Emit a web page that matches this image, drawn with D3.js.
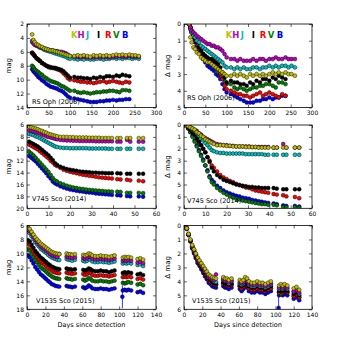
<!DOCTYPE html>
<html>
<head>
<meta charset="utf-8">
<script src="https://cdn.jsdelivr.net/npm/d3@7"></script>
<style>
  body { margin: 0; background: #fff; }
  text { font-family: "DejaVu Sans", sans-serif; }
</style>
</head>
<body>
<svg id="chart"></svg>
<script>
// bands, drawn as coloured circles
const bands = ['K', 'H', 'J', 'I', 'R', 'V', 'B'];
const bandColors = ['#bfbf00', '#bf00bf', '#00bfbf', '#000000', '#ff0000', '#008000', '#0000ff'];

// RS Oph (2006)
const rsOphDays = [12, 15, 18, 22, 26, 30, 35, 40, 45, 50, 55, 60, 65, 70, 75, 80, 85, 90, 95, 100,
  110, 118, 125, 132, 140, 147, 155, 162, 170, 178, 185, 192, 200, 208, 215, 222, 230, 238, 245, 252, 260];
const rsOphK = [3.5, 4.3, 4.6, 4.9, 5.0, 5.2, 5.3, 5.5, 5.6, 5.7, 5.8, 5.8, 5.9, 6.0, 6.1, 6.2, 6.3, 6.4, 6.5, 6.6,
  6.6, 6.5, 6.6, 6.5, 6.6, 6.7, 6.5, 6.6, 6.5, 6.6, 6.5, 6.6, 6.5, 6.4, 6.5, 6.4, 6.5, 6.4, 6.5, 6.5, 6.6];
const rsOphH = [4.6, 4.8, 5.0, 5.1, 5.2, 5.3, 5.4, 5.5, 5.6, 5.7, 5.8, 5.8, 5.9, 5.9, 6.0, 6.0, 6.1, 6.2, 6.4, 6.6,
  6.7, 6.7, 6.8, 6.7, 6.8, 6.8, 6.8, 6.7, 6.8, 6.7, 6.7, 6.8, 6.7, 6.7, 6.6, 6.7, 6.7, 6.6, 6.7, 6.7, 6.7];
const rsOphJ = [4.4, 4.7, 4.9, 5.1, 5.2, 5.4, 5.5, 5.7, 5.8, 5.9, 6.0, 6.1, 6.2, 6.3, 6.4, 6.5, 6.6, 6.7, 6.9, 7.0,
  7.0, 7.1, 7.0, 7.1, 7.0, 7.1, 7.1, 7.0, 7.0, 7.1, 7.0, 7.0, 6.9, 7.0, 6.9, 7.0, 6.9, 6.9, 7.0, 6.9, 7.0];
const rsOphI = [6.2, 6.4, 6.6, 6.9, 7.1, 7.3, 7.6, 7.8, 8.0, 8.1, 8.2, 8.3, 8.3, 8.4, 8.5, 8.6, 8.8, 9.1, 9.4, 9.7,
  9.6, 9.7, 9.7, 9.8, 9.8, 9.9, 9.7, 9.8, 9.6, 9.7, 9.5, 9.5, 9.6, 9.4, 9.5, 9.3, 9.4, 9.5, null, null, null];
const rsOphR = [6.1, 6.3, 6.6, 6.9, 7.1, 7.3, 7.6, 7.8, 8.0, 8.2, 8.3, 8.3, 8.4, 8.5, 8.6, 8.8, 9.1, 9.4, 9.8, 10.0,
  10.1, 10.2, 10.3, 10.3, 10.4, 10.4, 10.5, 10.4, 10.3, 10.2, 10.4, 10.3, 10.2, 10.3, 10.4, 10.5, 10.3, 10.4, null, null, null];
const rsOphV = [8.0, 8.2, 8.5, 8.7, 8.9, 9.1, 9.3, 9.6, 9.8, 10.0, 10.2, 10.3, 10.4, 10.5, 10.7, 10.9, 11.0, 11.2, 11.4, 11.6,
  11.6, 11.8, 11.9, 11.8, 11.9, 12.0, 11.9, 11.8, 11.8, 11.7, 11.7, 11.6, 11.6, 11.7, 11.8, 11.5, 11.5, 11.6, null, null, null];
const rsOphB = [8.5, 8.8, 9.0, 9.3, 9.6, 9.8, 10.1, 10.3, 10.6, 10.8, 11.0, 11.1, 11.2, 11.3, 11.5, 11.6, 11.8, 12.1, 12.4, 12.6,
  12.7, 12.8, 12.9, 13.0, 13.1, 13.2, 13.2, 13.2, 13.1, 13.1, 13.0, 13.0, 12.9, 13.0, 12.9, 12.9, 12.8, 12.8, null, null, null];

// V745 Sco (2014)
const v745Days = [1, 2, 3, 4, 5, 6, 7, 8, 9, 10, 11, 12, 13, 14, 15.5, 17, 18.5, 20, 21.5, 23, 24.5, 26, 27.5, 29, 30.5,
  32, 33.5, 35, 36.5, 38, 39.5, 42, 43.5, 46.5, 48, 52, 54];
const v745K = [6.3, 6.4, 6.5, 6.6, 6.7, 6.9, 7.0, 7.2, 7.3, 7.5, 7.6, 7.7, 7.8, 7.9, 8.0, 8.0, 8.0, 8.05, 8.05, 8.1, 8.1,
  8.1, 8.1, 8.15, 8.15, 8.15, 8.15, 8.2, 8.2, 8.2, 8.2, 8.2, 8.2, 8.2, 8.2, 8.2, 8.2];
const v745H = [6.9, 7.0, 7.1, 7.2, 7.3, 7.4, 7.6, 7.7, 7.9, 8.0, 8.1, 8.2, 8.3, 8.4, 8.5, 8.55, 8.6, 8.6, 8.65, 8.65, 8.7,
  8.7, 8.7, 8.7, 8.7, 8.75, 8.75, 8.75, 8.75, 8.75, 8.75, 8.8, 8.8, 8.5, 8.8, 8.8, 8.8];
const v745J = [7.5, 7.6, 7.7, 7.9, 8.0, 8.2, 8.4, 8.6, 8.8, 9.0, 9.2, 9.4, 9.6, 9.7, 9.8, 9.85, 9.85, 9.9, 9.9, 9.9, 9.9,
  9.9, 9.9, 9.95, 9.95, 9.95, 9.95, 9.95, 9.95, 10.0, 10.0, 10.0, 10.0, 10.0, 10.0, 10.0, 10.0];
const v745I = [8.8, 9.0, 9.2, 9.4, 9.6, 9.9, 10.2, 10.5, 10.8, 11.1, 11.5, 11.9, 12.4, 12.7, 13.0, 13.2, 13.4, 13.5, 13.6,
  13.7, 13.8, 13.85, 13.9, 13.95, 14.0, 14.0, 14.05, 14.05, 14.1, 14.1, 14.1, 14.1, 14.15, 14.2, 14.2, 14.2, 14.2];
const v745R = [9.3, 9.5, 9.7, 9.9, 10.1, 10.4, 10.7, 11.0, 11.3, 11.6, 12.0, 12.3, 12.7, 12.9, 13.2, 13.5, 13.7, 13.85,
  14.0, 14.1, 14.25, 14.35, 14.45, 14.55, 14.6, 14.7, 14.8, 14.85, 14.9, 14.95, 15.0, 15.1, 15.15, 15.2, 15.3, 15.35, 15.45];
const v745V = [10.5, 10.8, 11.1, 11.5, 11.9, 12.3, 12.7, 13.1, 13.5, 13.9, 14.4, 14.9, 15.3, 15.5, 15.8, 16.0, 16.2, 16.35,
  16.5, 16.6, 16.7, 16.75, 16.85, 16.9, 16.95, 17.0, 17.05, 17.1, 17.15, 17.15, 17.2, 17.2, 17.25, 17.4, 17.4, 17.4, 17.45];
const v745B = [11.2, 11.5, 11.8, 12.1, 12.5, 12.9, 13.3, 13.7, 14.1, 14.6, 15.0, 15.5, 15.8, 16.0, 16.3, 16.5, 16.7, 16.85,
  16.95, 17.05, 17.15, 17.2, 17.3, 17.35, 17.4, 17.5, 17.55, 17.6, 17.65, 17.7, 17.75, 17.8, 17.85, 17.95, 18.0, 18.0, 18.05];

// V1535 Sco (2015)
const v1535Days = [1, 3, 5, 7, 9, 11, 13, 15, 17, 19, 21, 23, 25, 27, 29, 31, 33, 35, 43, 45, 47, 49, 52,
  61, 63, 65, 67, 69, 71, 74, 77, 80, 83, 86, 89, 92, 95, 104, 106, 108, 110, 113, 120, 123, 126];
const v1535K = [6.3, 6.5, 6.9, 7.3, 7.7, 8.0, 8.3, 8.6, 8.8, 9.0, 9.2, 9.4, 9.6, 9.8, 9.9, 10.0, 10.05, 10.1,
  10.0, 10.1, 10.1, 10.2, 10.1, 10.2, 10.3, 10.2, 10.0, 10.1, 10.3, 10.4, 10.4, 10.3, 10.4, 10.4, 10.5, 10.4, 10.3,
  10.6, 10.5, 10.6, 10.5, 10.6, 10.8, 10.7, 10.9];
const v1535H = [6.6, 6.8, 7.2, 7.65, 8.05, 8.35, 8.7, 9.0, 9.2, 9.4, 9.6, 9.8, 10.05, 10.25, 10.35, 10.45, 10.5, 10.1,
  10.45, 10.55, 10.55, 10.65, 10.55, 10.65, 10.75, 10.65, 10.45, 10.55, 10.75, 10.85, 10.85, 10.75, 10.85, 10.85, 10.95,
  10.85, 10.75, 11.05, 10.95, 11.05, 10.95, 11.05, 11.3, 11.2, 11.4];
const v1535J = [6.9, 7.1, 7.55, 7.95, 8.4, 8.7, 9.0, 9.35, 9.55, 9.75, 9.95, 10.2, 10.4, 10.6, 10.7, 10.8, 10.9, 10.95,
  10.8, 10.9, 10.9, 11.05, 10.9, 11.05, 11.15, 11.05, 10.8, 10.9, 11.15, 11.25, 11.25, 11.15, 11.25, 11.25, 11.35,
  11.25, 11.15, 11.45, 11.35, 11.45, 11.35, 11.45, 11.65, 11.55, 11.8];
const v1535I = [8.1, 8.3, 8.75, 9.2, 9.65, 9.95, 10.3, 10.6, 10.8, 11.05, 11.25, 11.5, 11.7, 11.9, 12.0, 12.15, 12.2, 12.25,
  12.15, 12.25, 12.25, 12.35, 12.25, 12.35, 12.45, 12.35, 12.15, 12.25, 12.45, 12.55, 12.55, 12.45, 12.55, 12.55, 12.7,
  12.55, 12.45, 12.8, 12.7, 12.8, 12.7, 12.8, 13.0, 12.9, 13.1];
const v1535R = [8.6, 8.8, 9.25, 9.7, 10.15, 10.5, 10.85, 11.2, 11.4, 11.6, 11.85, 12.1, 12.3, 12.5, 12.65, 12.75, 12.8, 12.85,
  12.75, 12.85, 12.85, 12.95, 12.85, 12.95, 13.1, 12.95, 12.75, 12.85, 13.1, 13.2, 13.2, 13.1, 13.2, 13.2, 13.3,
  13.2, 13.1, 13.4, 13.3, 13.4, 13.3, 13.4, 13.65, 13.55, 13.75];
const v1535V = [9.4, 9.6, 10.05, 10.5, 10.95, 11.3, 11.65, 12.0, 12.2, 12.4, 12.65, 12.9, 13.1, 13.3, 13.45, 13.55, 13.6, 13.65,
  13.55, 13.65, 13.65, 13.75, 13.65, 13.75, 13.9, 13.75, 13.5, 13.65, 13.9, 14.0, 14.0, 13.9, 14.0, 14.0, 14.1,
  14.0, 13.9, 14.2, 14.3, 14.2, 14.1, 14.2, 14.45, 14.35, 14.55];
const v1535B = [10.3, 10.55, 11.0, 11.45, 11.95, 12.3, 12.65, 13.0, 13.2, 13.45, 13.7, 13.95, 14.15, 14.4, 14.5, 14.65, 14.7, 14.75,
  14.65, 14.75, 14.75, 14.85, 14.75, 14.85, 15.0, 14.85, 14.6, 14.75, 15.0, 15.1, 15.1, 15.0, 15.1, 15.1, 15.2,
  15.1, 15.0, 15.3, 15.2, 15.3, 15.2, 15.3, 15.55, 15.45, 15.65];
// B point with its error bar: [day, mag, error]
const v1535BErr = [[103.5, 16.2, 1.65]];

// axis ticks
const rsOphDayTicks = [0, 50, 100, 150, 200, 250, 300];
const rsOphMagTicks = [2, 4, 6, 8, 10, 12, 14];
const rsOphDeltaTicks = [0, 1, 2, 3, 4, 5];
const v745DayTicks = [0, 10, 20, 30, 40, 50, 60];
const v745MagTicks = [6, 8, 10, 12, 14, 16, 18, 20];
const v745DeltaTicks = [0, 1, 2, 3, 4, 5, 6, 7];
const v1535DayTicks = [0, 20, 40, 60, 80, 100, 120, 140];
const v1535MagTicks = [6, 8, 10, 12, 14, 16, 18];
const v1535DeltaTicks = [0, 1, 2, 3, 4, 5, 6];

const novae = [
  { name: 'RS Oph (2006)', days: rsOphDays, mags: [rsOphK, rsOphH, rsOphJ, rsOphI, rsOphR, rsOphV, rsOphB],
    xTicks: rsOphDayTicks, magTicks: rsOphMagTicks, deltaTicks: rsOphDeltaTicks, err: [],
    labelPos: [[5, -4], [3, -7.5]] },
  { name: 'V745 Sco (2014)', days: v745Days, mags: [v745K, v745H, v745J, v745I, v745R, v745V, v745B],
    xTicks: v745DayTicks, magTicks: v745MagTicks, deltaTicks: v745DeltaTicks, err: [],
    labelPos: [[5, -7], [3, -5]] },
  { name: 'V1535 Sco (2015)', days: v1535Days, mags: [v1535K, v1535H, v1535J, v1535I, v1535R, v1535V, v1535B],
    xTicks: v1535DayTicks, magTicks: v1535MagTicks, deltaTicks: v1535DeltaTicks, err: v1535BErr,
    labelPos: [[9, -6], [8, -6]] }
];

// layout (pixels)
const cols = [{ x0: 27, x1: 156 }, { x0: 184, x1: 312 }];
const rows = [{ y0: 24, y1: 107.5 }, { y0: 125, y1: 208.3 }, { y0: 225.5, y1: 309.3 }];
const legendDx = [44, 50.5, 59, 70, 78, 86, 95];

const svg = d3.select('#chart').attr('width', 349).attr('height', 343);

function styleAxis(g) {
  g.select('.domain').remove();
  g.selectAll('line').attr('stroke', '#000').attr('stroke-width', 0.6);
  g.selectAll('text').attr('font-size', 6).attr('fill', '#000')
    .style('font-family', '"DejaVu Sans", sans-serif');
}

novae.forEach((nova, r) => {
  [0, 1].forEach(c => {
    const isDelta = c === 1;
    const left = cols[c].x0;
    const top = rows[r].y0;
    const w = cols[c].x1 - left;
    const h = rows[r].y1 - top;
    const yTicks = isDelta ? nova.deltaTicks : nova.magTicks;

    const xScale = d3.scaleLinear()
      .domain(d3.extent(nova.xTicks))
      .range([0, w]);
    // magnitudes: bright at top
    const yScale = d3.scaleLinear()
      .domain(d3.extent(yTicks))
      .range([0, h]);

    const g = svg.append('g').attr('transform', `translate(${left}, ${top})`);
    const clipId = `clip-${r}-${c}`;
    g.append('clipPath').attr('id', clipId)
      .append('rect').attr('width', w).attr('height', h);
    const plot = g.append('g').attr('clip-path', `url(#${clipId})`);

    // B drawn first, K last
    for (let b = bands.length - 1; b >= 0; b--) {
      const mags = nova.mags[b];
      const ref = d3.min(mags);
      const pts = nova.days
        .map((d, i) => [d, mags[i]])
        .filter(p => p[1] != null)
        .map(p => [p[0], isDelta ? p[1] - ref : p[1]]);

      if (b === 6 && nova.err.length) {
        const e = nova.err.map(p => [p[0], isDelta ? p[1] - ref : p[1], p[2]]);
        plot.selectAll(null)
          .data(e)
          .enter()
          .append('line')
          .attr('x1', d => xScale(d[0]))
          .attr('x2', d => xScale(d[0]))
          .attr('y1', d => yScale(d[1] - d[2]))
          .attr('y2', d => yScale(d[1] + d[2]))
          .attr('stroke', bandColors[b])
          .attr('stroke-width', 0.8);
        pts.push(...e.map(p => [p[0], p[1]]));
      }

      plot.selectAll(null)
        .data(pts)
        .enter()
        .append('circle')
        .attr('cx', d => xScale(d[0]))
        .attr('cy', d => yScale(d[1]))
        .attr('r', 1.95)
        .attr('fill', bandColors[b])
        .attr('stroke', '#000')
        .attr('stroke-width', 0.45);
    }

    // ticks point inward on all four sides
    g.append('g')
      .attr('transform', `translate(0, ${h})`)
      .call(d3.axisBottom(xScale).tickValues(nova.xTicks).tickSize(-3).tickPadding(3).tickFormat(d3.format('d')))
      .call(styleAxis);
    g.append('g')
      .call(d3.axisTop(xScale).tickValues(nova.xTicks).tickSize(-3).tickFormat(''))
      .call(styleAxis);
    g.append('g')
      .call(d3.axisLeft(yScale).tickValues(yTicks).tickSize(-3).tickPadding(3).tickFormat(d3.format('d')))
      .call(styleAxis);
    g.append('g')
      .attr('transform', `translate(${w}, 0)`)
      .call(d3.axisRight(yScale).tickValues(yTicks).tickSize(-3).tickFormat(''))
      .call(styleAxis);

    g.append('rect')
      .attr('width', w)
      .attr('height', h)
      .attr('fill', 'none')
      .attr('stroke', '#000')
      .attr('stroke-width', 0.8);

    g.append('text')
      .attr('x', nova.labelPos[c][0])
      .attr('y', h + nova.labelPos[c][1])
      .attr('font-size', 6.5)
      .text(nova.name);

    g.append('text')
      .attr('transform', `translate(${isDelta ? -14 : -16.5}, ${h / 2}) rotate(-90)`)
      .attr('text-anchor', 'middle')
      .attr('font-size', 7)
      .text(isDelta ? '\u0394 mag' : 'mag');

    if (r === 0) {
      g.selectAll(null)
        .data(bands)
        .enter()
        .append('text')
        .attr('x', (d, i) => legendDx[i] - (isDelta ? 2.3 : 0))
        .attr('y', 13.5)
        .attr('font-size', 8.5)
        .attr('font-weight', 'bold')
        .attr('fill', (d, i) => bandColors[i])
        .text(d => d);
    }

    if (r === novae.length - 1) {
      g.append('text')
        .attr('x', w / 2)
        .attr('y', h + 18)
        .attr('text-anchor', 'middle')
        .attr('font-size', 6.5)
        .text('Days since detection');
    }
  });
});
</script>
</body>
</html>
